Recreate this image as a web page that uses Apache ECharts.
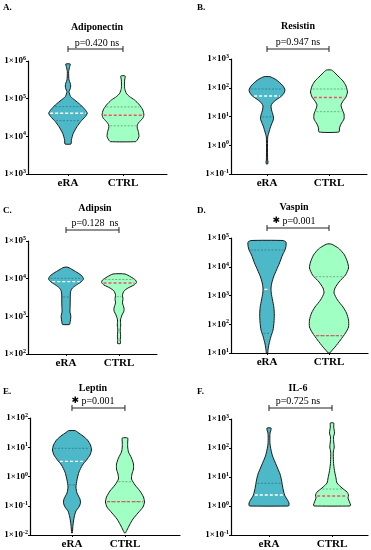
<!DOCTYPE html>
<html><head><meta charset="utf-8">
<script src="https://cdn.jsdelivr.net/npm/echarts@6/dist/echarts.min.js"></script>
<style>html,body{margin:0;padding:0;background:#fff}#c{width:371px;height:550px}</style>
</head><body><div id="c"></div>
<script>
// ---------- DATA (log10 of concentration; half-width of violin in category units) ----------
const categories = ['eRA', 'CTRL'];
const titles = ['Adiponectin', 'Resistin', 'Adipsin', 'Vaspin', 'Leptin', 'IL-6'];
const letters = ['A.', 'B.', 'C.', 'D.', 'E.', 'F.'];
const pTexts = ['p=0.420 ns', 'p=0.947 ns', 'p=0.128  ns', 'p=0.001', 'p=0.001', 'p=0.725 ns'];
const significant = [false, false, false, true, true, false];
const yMinExp = [3, -1, 2, 1, -2, -1];
const yMaxExp = [6, 3, 5, 5, 2, 3];

// Adiponectin
const adipoEraLog  = [5.920,5.849,5.716,5.496,5.408,5.337,5.266,5.187,5.053,4.966,4.833,4.700,4.613,4.524,4.391,4.257,4.082,3.905,3.798];
const adipoEraHalf = [0.042,0.030,0.012,0.018,0.042,0.049,0.042,0.018,0.049,0.121,0.230,0.315,0.351,0.315,0.230,0.164,0.097,0.061,0.055];
const adipoEraQ    = [4.416, 4.613, 4.788];
const adipoCtrlLog  = [5.602,5.496,5.275,5.143,5.053,4.966,4.833,4.700,4.568,4.480,4.391,4.302,4.215,4.125,3.992,3.905,3.859];
const adipoCtrlHalf = [0.04,0.03,0.03,0.06,0.12,0.21,0.30,0.36,0.38,0.36,0.30,0.26,0.26,0.28,0.29,0.26,0.23];
const adipoCtrlQ    = [4.28, 4.56, 4.78];
// Resistin
const resEraLog  = [2.384,2.304,2.2,2.061,1.922,1.783,1.678,1.574,1.470,1.365,1.226,1.052,0.913,0.774,0.635,0.461,0.287,-0.165,-0.513,-0.583,-0.652];
const resEraHalf = [0.048,0.129,0.194,0.258,0.29,0.266,0.215,0.145,0.089,0.065,0.073,0.097,0.105,0.081,0.056,0.032,0.011,0.008,0.010,0.016,0.010];
const resEraQ    = [0.983, 1.713, 1.957];
const resCtrlLog  = [2.617,2.548,2.409,2.235,2.061,1.852,1.678,1.539,1.4,1.261,1.087,0.913,0.739,0.6,0.461];
const resCtrlHalf = [0.040,0.081,0.145,0.226,0.274,0.298,0.274,0.226,0.194,0.210,0.242,0.242,0.194,0.169,0.161];
const resCtrlQ    = [1.167, 1.661, 1.957];
// Adipsin
const adipsEraLog  = [4.302,4.230,4.151,4.071,3.991,3.912,3.832,3.752,3.673,3.567,3.301,3.115,3.009,2.903,2.823,2.783];
const adipsEraHalf = [0.038,0.132,0.226,0.302,0.330,0.283,0.198,0.123,0.091,0.081,0.079,0.075,0.091,0.085,0.075,0.066];
const adipsEraQ    = [3.513, 3.920, 4.010];
const adipsCtrlLog  = [4.124,4.044,3.965,3.898,3.832,3.752,3.673,3.567,3.460,3.354,3.221,3.142,3.036,2.903,2.770,2.637,2.478,2.372,2.279];
const adipsCtrlHalf = [0.113,0.226,0.311,0.330,0.283,0.170,0.094,0.066,0.075,0.066,0.094,0.094,0.057,0.028,0.032,0.023,0.030,0.023,0.028];
const adipsCtrlQ    = [3.521, 3.885, 3.978];
// Vaspin
const vasEraLog  = [4.913,4.861,4.722,4.583,4.409,4.130,3.887,3.643,3.435,3.261,3.087,2.843,2.6,2.322,2.078,1.800,1.557,1.313,1.104,1.0];
const vasEraHalf = [0.258,0.306,0.306,0.290,0.250,0.202,0.153,0.105,0.077,0.065,0.068,0.089,0.110,0.118,0.113,0.097,0.061,0.032,0.016,0.011];
const vasEraQ    = [1.685, 3.216, 4.583];
const vasCtrlLog  = [4.791,4.722,4.617,4.409,4.165,3.957,3.713,3.470,3.261,3.087,2.843,2.6,2.391,2.148,1.904,1.696,1.452,1.209,1.070,1.0];
const vasCtrlHalf = [0.032,0.097,0.169,0.250,0.298,0.315,0.266,0.161,0.097,0.081,0.137,0.226,0.282,0.315,0.315,0.266,0.185,0.097,0.040,0.011];
const vasCtrlQ    = [1.602, 1.602, 3.654];
// Leptin
const lepEraLog  = [1.566,1.504,1.385,1.248,1.077,0.906,0.735,0.564,0.393,0.154,-0.120,-0.359,-0.564,-0.769,-0.906,-1.043,-1.179,-1.385,-1.658,-1.932];
const lepEraHalf = [0.066,0.113,0.208,0.292,0.349,0.368,0.340,0.274,0.198,0.132,0.094,0.075,0.094,0.151,0.160,0.132,0.075,0.042,0.019,0.006];
const lepEraQ    = [-0.291, 0.520, 0.964];
const lepCtrlLog  = [1.316,1.179,1.009,0.838,0.632,0.427,0.256,0.085,-0.085,-0.291,-0.496,-0.701,-0.872,-1.043,-1.248,-1.453,-1.658,-1.829,-1.932];
const lepCtrlHalf = [0.051,0.051,0.051,0.066,0.123,0.160,0.160,0.132,0.123,0.189,0.283,0.349,0.368,0.340,0.245,0.151,0.085,0.038,0.009];
const lepCtrlQ    = [-0.862, -0.862, -0.178];
// IL-6
const il6EraLog  = [2.690,2.621,2.552,2.379,2.138,1.931,1.724,1.517,1.310,1.103,0.897,0.690,0.517,0.345,0.207,0.103,0.034,0.0];
const il6EraHalf = [0.032,0.032,0.019,0.013,0.016,0.032,0.056,0.095,0.135,0.175,0.198,0.214,0.230,0.254,0.294,0.317,0.317,0.310];
const il6EraQ    = [0.0, 0.379, 0.783];
const il6CtrlLog  = [2.862,2.724,2.517,2.379,2.207,2.034,1.862,1.655,1.414,1.172,0.966,0.793,0.621,0.483,0.379,0.276,0.138,0.034,0.0];
const il6CtrlHalf = [0.027,0.027,0.040,0.024,0.027,0.035,0.021,0.021,0.027,0.043,0.063,0.079,0.159,0.238,0.262,0.254,0.278,0.294,0.286];
const il6CtrlQ    = [0.0, 0.345, 0.586];

// ---------- LAYOUT ----------
const layout = [
  {grid:{left:28, top:61, width:139, height:113}, xMin:0.273, xMax:2.80, tx:97, ty:27, py:43, lx:3, ly:8, gap:12},
  {grid:{left:231, top:59, width:136, height:115}, xMin:0.419, xMax:2.613, tx:298, ty:26, py:42, lx:197, ly:8, gap:10},
  {grid:{left:28, top:241, width:129, height:113}, xMin:0.283, xMax:2.717, tx:95, ty:208, py:223, lx:3, ly:211, gap:11},
  {grid:{left:231, top:238, width:137, height:115}, xMin:0.419, xMax:2.629, tx:294, ty:207, py:221, lx:197, ly:211, gap:10},
  {grid:{left:30, top:418, width:150, height:117}, xMin:0.208, xMax:3.038, tx:93, ty:388, py:401, lx:3, ly:392, gap:10},
  {grid:{left:231, top:419, width:137, height:116}, xMin:0.397, xMax:2.571, tx:298, ty:388, py:401, lx:197, ly:392, gap:11}
];

const violins = [
  [{log:adipoEraLog, half:adipoEraHalf, q:adipoEraQ}, {log:adipoCtrlLog, half:adipoCtrlHalf, q:adipoCtrlQ}],
  [{log:resEraLog, half:resEraHalf, q:resEraQ}, {log:resCtrlLog, half:resCtrlHalf, q:resCtrlQ}],
  [{log:adipsEraLog, half:adipsEraHalf, q:adipsEraQ}, {log:adipsCtrlLog, half:adipsCtrlHalf, q:adipsCtrlQ}],
  [{log:vasEraLog, half:vasEraHalf, q:vasEraQ}, {log:vasCtrlLog, half:vasCtrlHalf, q:vasCtrlQ}],
  [{log:lepEraLog, half:lepEraHalf, q:lepEraQ}, {log:lepCtrlLog, half:lepCtrlHalf, q:lepCtrlQ}],
  [{log:il6EraLog, half:il6EraHalf, q:il6EraQ}, {log:il6CtrlLog, half:il6CtrlHalf, q:il6CtrlQ}]
];

const FONT = '"Liberation Serif", "DejaVu Serif", serif';
const FILLS = ['#4DB9C8', '#A0FFC2'];
const QCOL = ['#2a7a86', '#5c9c74'];
const MEDCOL = ['#ffffff', '#f0506a'];

function halfAt(v, e) {
  for (let i = 0; i < v.log.length - 1; i++) {
    const a = v.log[i], b = v.log[i + 1];
    if ((e <= a && e >= b)) {
      const t = a === b ? 0 : (a - e) / (a - b);
      return v.half[i] + t * (v.half[i + 1] - v.half[i]);
    }
  }
  return 0;
}

function violinRender(pi) {
  return function (params, api) {
    const cx = api.value(0);
    const k = cx - 1;
    const v = violins[pi][k];
    const right = v.log.map((e, i) => api.coord([cx + v.half[i], e]));
    const left = v.log.map((e, i) => api.coord([cx - v.half[i], e])).reverse();
    const children = [{
      type: 'polygon',
      shape: {points: right.concat(left), smooth: 0.2},
      style: {fill: FILLS[k], stroke: '#1a1a1a', lineWidth: 1}
    }];
    const addLine = (e, color, w, dash) => {
      const h = halfAt(v, e);
      if (h <= 0) return;
      const a = api.coord([cx - h, e]), b = api.coord([cx + h, e]);
      children.push({type: 'line', shape: {x1: a[0] + 1.5, y1: a[1], x2: b[0] - 1.5, y2: b[1]},
        style: {stroke: color, lineWidth: w, lineDash: dash}});
    };
    addLine(v.q[0], QCOL[k], 0.8, [2, 1.5]);
    addLine(v.q[2], QCOL[k], 0.8, [2, 1.5]);
    addLine(v.q[1], MEDCOL[k], 1.3, [3, 2]);
    return {type: 'group', children};
  };
}

function bracketRender(pi) {
  return function (params, api) {
    const a = api.coord([1, yMaxExp[pi]]);
    const b = api.coord([2, yMaxExp[pi]]);
    const y = params.coordSys.y - layout[pi].gap;
    const st = {stroke: '#222', lineWidth: 1};
    return {type: 'group', children: [
      {type: 'line', shape: {x1: a[0], y1: y, x2: b[0], y2: y}, style: st},
      {type: 'line', shape: {x1: a[0], y1: y - 3, x2: a[0], y2: y + 3}, style: st},
      {type: 'line', shape: {x1: b[0], y1: y - 3, x2: b[0], y2: y + 3}, style: st}
    ]};
  };
}

const grids = [], xAxes = [], yAxes = [], series = [], graphics = [];
layout.forEach((L, i) => {
  grids.push(L.grid);
  xAxes.push({
    type: 'value', gridIndex: i, min: L.xMin, max: L.xMax,
    splitLine: {show: false},
    axisLine: {onZero: false, lineStyle: {color: '#000', width: 1.2}},
    axisTick: {show: true, length: 2, customValues: [1, 2], lineStyle: {color: '#000'}},
    axisLabel: {customValues: [1, 2], formatter: v => categories[Math.round(v) - 1] || '',
      fontFamily: FONT, fontWeight: 'bold', fontSize: 11, color: '#000', margin: 4}
  });
  yAxes.push({
    type: 'value', gridIndex: i, min: yMinExp[i], max: yMaxExp[i], interval: 1,
    splitLine: {show: false},
    axisLine: {show: true, onZero: false, lineStyle: {color: '#000', width: 1.2}},
    axisTick: {show: true, length: 2, lineStyle: {color: '#000'}},
    axisLabel: {formatter: v => '{b|1×10}{s|' + Math.round(v) + '}', margin: 2,
      rich: {
        b: {fontFamily: FONT, fontWeight: 'bold', fontSize: 9, color: '#000'},
        s: {fontFamily: FONT, fontWeight: 'bold', fontSize: 6, color: '#000', verticalAlign: 'top', padding: [0, 0, 5, 0]}
      }}
  });
  series.push({
    type: 'custom', xAxisIndex: i, yAxisIndex: i, renderItem: violinRender(i),
    data: [[1, yMinExp[i]], [2, yMinExp[i]]], silent: true, clip: false
  });
  series.push({
    type: 'custom', xAxisIndex: i, yAxisIndex: i, renderItem: bracketRender(i),
    data: [[1, yMaxExp[i]]], silent: true, clip: false
  });
  graphics.push({type: 'text', x: L.tx, y: L.ty, style: {text: titles[i], font: 'bold 10px ' + FONT,
    fill: '#000', textAlign: 'center', textVerticalAlign: 'middle'}});
  graphics.push({type: 'text', x: L.tx, y: L.py, style: {
    text: significant[i] ? '{s|✱} ' + pTexts[i] : pTexts[i],
    font: '10px ' + FONT, fill: '#000', textAlign: 'center', textVerticalAlign: 'middle',
    rich: {s: {fontFamily: '"DejaVu Sans"', fontSize: 9, fontWeight: 'bold', fill: '#000'}}}});
  graphics.push({type: 'text', x: L.lx, y: L.ly, style: {text: letters[i], font: 'bold 9px ' + FONT,
    fill: '#000', textAlign: 'left', textVerticalAlign: 'middle'}});
});

const chart = echarts.init(document.getElementById('c'));
chart.setOption({
  animation: false,
  backgroundColor: '#fff',
  grid: grids, xAxis: xAxes, yAxis: yAxes, series: series, graphic: graphics
});
</script></body></html>
